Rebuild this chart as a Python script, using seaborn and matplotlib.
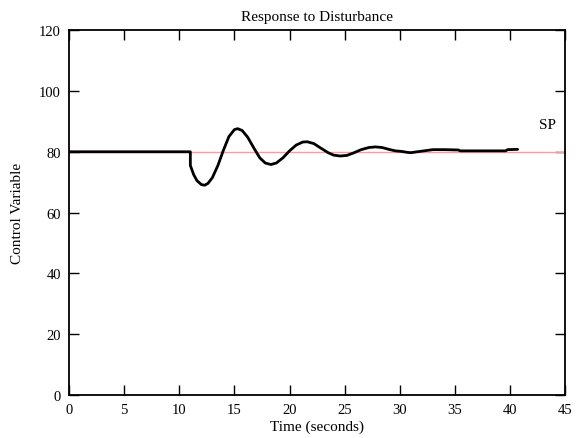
import numpy as np
import pandas as pd
import matplotlib
matplotlib.use("Agg")
import matplotlib.pyplot as plt
import seaborn as sns

# values
time_s = [0, 11.0, 11.0, 11.3, 11.6, 12.0, 12.3, 12.6, 13.0, 13.5, 14.0, 14.5,
          15.0, 15.3, 15.7, 16.2, 16.8, 17.3, 17.8, 18.3, 18.8, 19.4, 20.0,
          20.6, 21.2, 21.6, 22.2, 22.8, 23.5, 24.0, 24.6, 25.2, 25.8, 26.5,
          27.2, 27.8, 28.4, 29.0, 29.6, 30.2, 30.7, 31.0, 31.4, 32.0, 32.6,
          33.0, 34.0, 35.3, 35.5, 38.5, 39.6, 39.8, 40.7]
control = [80, 80, 75.5, 72.5, 70.5, 69.2, 69.0, 69.6, 71.5, 75.5, 80.5, 85.0,
           87.3, 87.6, 87.0, 84.8, 81.0, 78.0, 76.3, 75.8, 76.3, 78.0, 80.3,
           82.2, 83.2, 83.3, 82.7, 81.3, 79.7, 78.9, 78.6, 78.8, 79.6, 80.7,
           81.4, 81.6, 81.4, 80.8, 80.3, 80.1, 79.8, 79.7, 79.9, 80.2, 80.5,
           80.7, 80.7, 80.6, 80.3, 80.3, 80.3, 80.7, 80.8]
setpoint = 80
sp_time = [0, 45]

df = pd.DataFrame({"t": time_s, "cv": control})
sp = pd.DataFrame({"t": sp_time, "sp": [setpoint, setpoint]})

sns.set_style("ticks", {"axes.edgecolor": "black", "text.color": "black",
                        "axes.labelcolor": "black", "xtick.color": "black",
                        "ytick.color": "black"})
plt.rcParams["font.family"] = ["Liberation Serif", "DejaVu Serif"]
plt.rcParams["font.size"] = 11

fig = plt.figure(figsize=(5.76, 4.39), dpi=100)
ax = fig.add_axes([0.12, 0.098, 0.861, 0.831])

sns.lineplot(data=sp, x="t", y="sp", ax=ax, color="#ff9a9a", linewidth=1.0)
sns.lineplot(data=df, x="t", y="cv", ax=ax, color="black", linewidth=2.0,
             sort=False, estimator=None)

ax.text(43.4, 89, "SP", ha="center", va="center", fontsize=11, color="black")

ax.set_xlim(0, 45)
ax.set_ylim(0, 120)
ax.set_xticks(range(0, 46, 5))
ax.set_yticks(range(0, 121, 20))
ax.tick_params(direction="in", top=True, right=True, length=7, width=1.0,
               labelsize=10.5, pad=6, colors="black")
for s in ax.spines.values():
    s.set_visible(True)
    s.set_linewidth(1.3)
    s.set_color("black")

ax.set_title("Response to Disturbance", fontsize=11, pad=7, color="black")
ax.set_xlabel("Time (seconds)", fontsize=11, labelpad=2, color="black")
ax.set_ylabel("Control Variable", fontsize=11, labelpad=11, color="black")

fig.savefig("out.png", dpi=100)
